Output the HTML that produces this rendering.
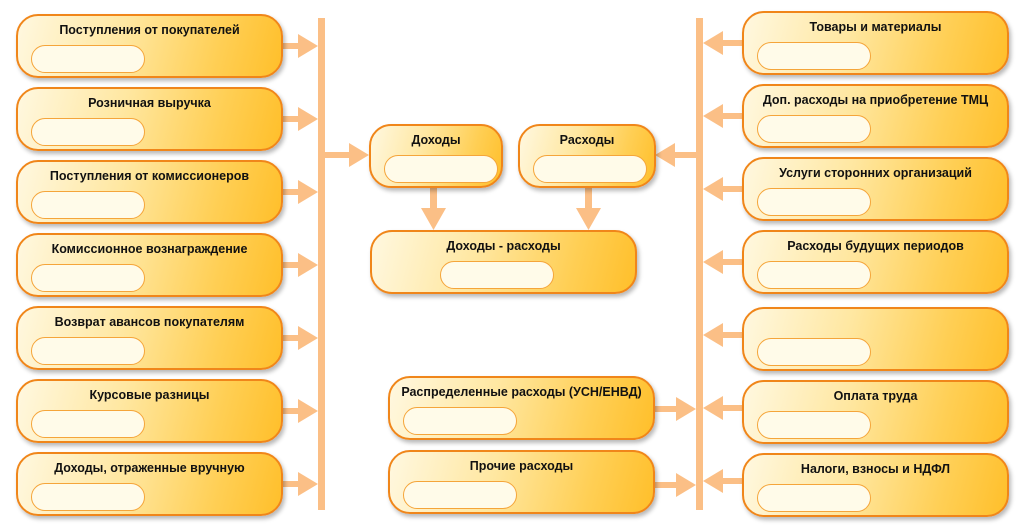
<!DOCTYPE html>
<html><head><meta charset="utf-8"><style>
body{margin:0;width:1022px;height:531px;background:#fff;position:relative;overflow:hidden;font-family:"Liberation Sans","DejaVu Sans",sans-serif}
.b{position:absolute;box-sizing:border-box;border:2px solid #f0861a;border-radius:22px;
background:linear-gradient(105deg,#fff8e0 0%,#ffe7a0 40%,#ffcf55 75%,#ffbf2a 100%);
box-shadow:2px 3px 4px rgba(0,0,0,.28)}
.b span{position:absolute;left:0;right:0;top:7px;text-align:center;font-size:12.5px;font-weight:bold;color:#111;white-space:nowrap}
.b i{position:absolute;left:13px;top:29px;width:114px;height:28px;box-sizing:border-box;border:1px solid #f5a53a;border-radius:14px;background:#fffbe9}
svg{position:absolute;left:0;top:0}
</style></head><body>
<svg width="1022" height="531">
<g fill="#fbbf86">
<rect x="318" y="18" width="7" height="492"/>
<rect x="696" y="18" width="7" height="492"/>
</g>
<g fill="#fbbf86">
<path d="M282,43h16v-9l20,12l-20,12v-9h-16z"/>
<path d="M282,116h16v-9l20,12l-20,12v-9h-16z"/>
<path d="M282,189h16v-9l20,12l-20,12v-9h-16z"/>
<path d="M282,262h16v-9l20,12l-20,12v-9h-16z"/>
<path d="M282,335h16v-9l20,12l-20,12v-9h-16z"/>
<path d="M282,408h16v-9l20,12l-20,12v-9h-16z"/>
<path d="M282,481h16v-9l20,12l-20,12v-9h-16z"/>
<path d="M325,152h24v-9l20,12l-20,12v-9h-24z"/>
<path d="M742,40h-19v-9l-20,12l20,12v-9h19z"/>
<path d="M742,113h-19v-9l-20,12l20,12v-9h19z"/>
<path d="M742,186h-19v-9l-20,12l20,12v-9h19z"/>
<path d="M742,259h-19v-9l-20,12l20,12v-9h19z"/>
<path d="M742,332h-19v-9l-20,12l20,12v-9h19z"/>
<path d="M742,405h-19v-9l-20,12l20,12v-9h19z"/>
<path d="M742,478h-19v-9l-20,12l20,12v-9h19z"/>
<path d="M696,152h-21v-9l-20,12l20,12v-9h21z"/>
<path d="M654,406h22v-9l20,12l-20,12v-9h-22z"/>
<path d="M654,482h22v-9l20,12l-20,12v-9h-22z"/>
<path d="M430,187h7v21h9l-12.5,22l-12.5,-22h9z"/>
<path d="M585,187h7v21h9l-12.5,22l-12.5,-22h9z"/>
</g>
</svg>

<div class="b" style="left:16px;top:14px;width:267px;height:64px"><span>Поступления от покупателей</span><i></i></div>
<div class="b" style="left:16px;top:87px;width:267px;height:64px"><span>Розничная выручка</span><i></i></div>
<div class="b" style="left:16px;top:160px;width:267px;height:64px"><span>Поступления от комиссионеров</span><i></i></div>
<div class="b" style="left:16px;top:233px;width:267px;height:64px"><span>Комиссионное вознаграждение</span><i></i></div>
<div class="b" style="left:16px;top:306px;width:267px;height:64px"><span>Возврат авансов покупателям</span><i></i></div>
<div class="b" style="left:16px;top:379px;width:267px;height:64px"><span>Курсовые разницы</span><i></i></div>
<div class="b" style="left:16px;top:452px;width:267px;height:64px"><span>Доходы, отраженные вручную</span><i></i></div>

<div class="b" style="left:742px;top:11px;width:267px;height:64px"><span>Товары и материалы</span><i></i></div>
<div class="b" style="left:742px;top:84px;width:267px;height:64px"><span>Доп. расходы на приобретение ТМЦ</span><i></i></div>
<div class="b" style="left:742px;top:157px;width:267px;height:64px"><span>Услуги сторонних организаций</span><i></i></div>
<div class="b" style="left:742px;top:230px;width:267px;height:64px"><span>Расходы будущих периодов</span><i></i></div>
<div class="b" style="left:742px;top:307px;width:267px;height:64px"><span></span><i></i></div>
<div class="b" style="left:742px;top:380px;width:267px;height:64px"><span>Оплата труда</span><i></i></div>
<div class="b" style="left:742px;top:453px;width:267px;height:64px"><span>Налоги, взносы и НДФЛ</span><i></i></div>

<div class="b" style="left:369px;top:124px;width:134px;height:64px"><span>Доходы</span><i></i></div>
<div class="b" style="left:518px;top:124px;width:138px;height:64px"><span>Расходы</span><i></i></div>
<div class="b" style="left:370px;top:230px;width:267px;height:64px"><span>Доходы - расходы</span><i style="left:68px"></i></div>
<div class="b" style="left:388px;top:376px;width:267px;height:64px"><span>Распределенные расходы (УСН/ЕНВД)</span><i></i></div>
<div class="b" style="left:388px;top:450px;width:267px;height:64px"><span>Прочие расходы</span><i></i></div>
</body></html>
